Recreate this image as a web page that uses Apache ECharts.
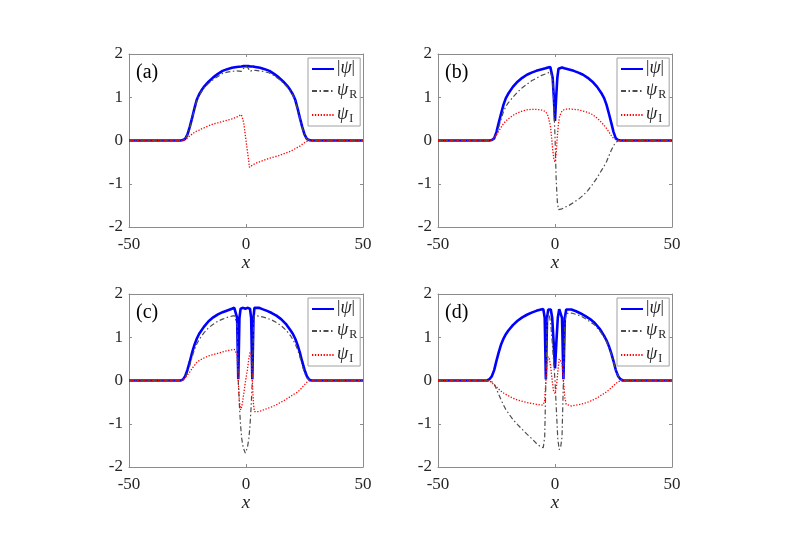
<!DOCTYPE html>
<html>
<head>
<meta charset="utf-8">
<script src="https://cdn.jsdelivr.net/npm/echarts@6/dist/echarts.min.js"></script>
<style>
html, body { margin: 0; padding: 0; background: #fff; }
#chart { width: 789px; height: 558px; }
</style>
</head>
<body>
<div id="chart"></div>
<script>
// values, x in [-50, 50]
var xA   = [-50,-28,-27,-26,-25,-24,-23,-22,-21,-20,-19,-18,-16,-14,-12,-10,-8,-6,-4,-2,-1.5,-1,-0.5,0,0.5,1,1.5,2,3,4,6,8,10,12,14,16,18,19,20,21,22,23,24,25,26,27,28,50];
var absA = [0,0,0.01,0.04,0.14,0.32,0.53,0.75,0.95,1.07,1.16,1.24,1.36,1.46,1.54,1.61,1.65,1.68,1.70,1.71,1.72,1.72,1.72,1.72,1.72,1.72,1.72,1.71,1.71,1.70,1.68,1.65,1.61,1.54,1.46,1.36,1.24,1.16,1.07,0.95,0.75,0.53,0.32,0.14,0.04,0.01,0,0];
var reA  = [0,0,0.01,0.03,0.13,0.30,0.51,0.73,0.93,1.04,1.13,1.21,1.32,1.41,1.48,1.55,1.58,1.60,1.61,1.60,1.60,1.67,1.71,1.72,1.71,1.67,1.60,1.60,1.62,1.62,1.61,1.59,1.56,1.50,1.42,1.33,1.21,1.14,1.05,0.93,0.73,0.51,0.31,0.13,0.03,0.01,0,0];
var imA  = [0,0,0,0.02,0.06,0.11,0.15,0.19,0.22,0.24,0.27,0.29,0.34,0.38,0.41,0.44,0.47,0.5,0.54,0.6,0.63,0.42,0.21,0,-0.21,-0.41,-0.62,-0.6,-0.56,-0.53,-0.49,-0.45,-0.41,-0.38,-0.35,-0.31,-0.27,-0.25,-0.22,-0.19,-0.16,-0.13,-0.09,-0.05,-0.02,0,0,0];

var xB   = [-50,-28,-27,-26,-25,-24,-23,-22,-21,-20,-18,-16,-14,-12,-10,-8,-6,-4,-3,-2,-1.5,-1,-0.5,0,0.5,1,1.5,2,3,4,6,8,10,12,14,16,18,20,21,22,23,24,25,26,27,28,50];
var absB = [0,0,0.01,0.05,0.2,0.42,0.63,0.83,0.98,1.08,1.24,1.36,1.45,1.52,1.57,1.61,1.64,1.67,1.69,1.70,1.66,1.45,1.0,0.45,1.0,1.45,1.66,1.70,1.69,1.67,1.64,1.61,1.57,1.52,1.45,1.36,1.24,1.08,0.98,0.83,0.63,0.42,0.2,0.05,0.01,0,0];
var reB  = [0,0,0.01,0.04,0.15,0.32,0.5,0.67,0.79,0.87,1.0,1.12,1.22,1.3,1.38,1.44,1.5,1.54,1.56,1.6,1.6,1.4,0.85,0.1,-0.9,-1.42,-1.6,-1.61,-1.58,-1.55,-1.5,-1.43,-1.36,-1.27,-1.16,-1.02,-0.86,-0.68,-0.59,-0.49,-0.36,-0.23,-0.12,-0.04,-0.01,0,0];
var imB  = [0,0,0.01,0.05,0.13,0.22,0.31,0.39,0.45,0.5,0.58,0.64,0.68,0.71,0.72,0.72,0.71,0.67,0.57,0.35,0.1,-0.2,-0.42,-0.5,-0.3,0.1,0.4,0.57,0.68,0.72,0.73,0.72,0.71,0.68,0.65,0.6,0.52,0.41,0.35,0.28,0.2,0.12,0.05,0.02,0.01,0,0];

var xC   = [-50,-28,-27,-26,-25,-24,-23,-22,-21,-20,-18,-16,-14,-12,-10,-8,-6,-5,-4.2,-3.8,-3.3,-2.8,-2.3,-1.8,-1.2,-0.3,0.6,1.2,1.7,2.2,2.7,3.2,3.6,4.4,5.5,7,9,11,13,15,17,19,20,21,22,23,24,25,26,27,28,50];
var absC = [0,0,0.02,0.1,0.25,0.44,0.65,0.83,0.97,1.08,1.24,1.37,1.46,1.53,1.58,1.62,1.66,1.68,1.69,1.45,0.03,1.45,1.66,1.68,1.68,1.66,1.68,1.68,1.66,1.45,0.03,1.45,1.68,1.69,1.68,1.65,1.61,1.56,1.5,1.42,1.31,1.16,1.08,0.97,0.83,0.65,0.44,0.25,0.1,0.02,0,0];
var reC  = [0,0,0.01,0.06,0.18,0.35,0.55,0.72,0.85,0.95,1.1,1.22,1.3,1.37,1.42,1.46,1.49,1.5,1.5,1.3,0,-0.6,-1.05,-1.35,-1.55,-1.68,-1.55,-1.35,-1.05,-0.6,0,1.3,1.5,1.5,1.49,1.47,1.44,1.4,1.34,1.27,1.17,1.04,0.95,0.85,0.72,0.55,0.35,0.18,0.06,0.01,0,0];
var imC  = [0,0,0.01,0.07,0.13,0.2,0.28,0.35,0.42,0.46,0.52,0.57,0.6,0.63,0.66,0.69,0.71,0.72,0.72,0.6,0,-0.5,-0.68,-0.6,-0.4,-0.05,0.25,0.5,0.65,0.6,0,-0.55,-0.72,-0.73,-0.72,-0.69,-0.65,-0.61,-0.56,-0.5,-0.44,-0.37,-0.33,-0.3,-0.27,-0.22,-0.16,-0.1,-0.04,-0.01,0,0];

var xD   = [-50,-29,-28,-27,-26,-25,-24,-23,-22,-21,-20,-18,-16,-14,-12,-10,-8,-6,-5,-4.4,-3.9,-3.4,-2.9,-2.4,-1.8,-1.2,-0.6,0,0.6,1.2,1.8,2.4,3.0,3.6,4.2,4.8,5.5,7,9,11,13,15,17,19,20,21,22,23,24,25,26,27,28,29,50];
var absD = [0,0,0.03,0.1,0.24,0.46,0.66,0.84,0.97,1.07,1.15,1.28,1.38,1.46,1.52,1.57,1.61,1.64,1.65,1.45,0.03,1.45,1.64,1.67,1.64,1.45,0.9,0.28,0.9,1.45,1.65,1.64,1.45,0.03,1.45,1.64,1.66,1.64,1.6,1.55,1.49,1.42,1.33,1.2,1.12,1.03,0.93,0.8,0.64,0.45,0.24,0.1,0.03,0,0];
var reD  = [0,0,-0.01,-0.03,-0.08,-0.2,-0.33,-0.45,-0.57,-0.67,-0.75,-0.9,-1.02,-1.13,-1.24,-1.34,-1.45,-1.54,-1.55,-1.3,0,1.3,1.55,1.5,1.3,0.9,0.45,0,-0.7,-1.35,-1.6,-1.55,-1.3,0,1.3,1.55,1.57,1.56,1.53,1.49,1.43,1.36,1.28,1.16,1.08,1.0,0.9,0.77,0.62,0.44,0.24,0.1,0.03,0,0];
var imD  = [0,0,-0.01,-0.05,-0.1,-0.15,-0.2,-0.25,-0.29,-0.32,-0.35,-0.41,-0.45,-0.48,-0.51,-0.53,-0.55,-0.57,-0.56,-0.45,0,0.4,0.55,0.5,0.3,0,-0.25,-0.3,-0.15,0.2,0.5,0.53,0.4,0,-0.4,-0.55,-0.58,-0.59,-0.57,-0.55,-0.52,-0.48,-0.43,-0.37,-0.33,-0.3,-0.26,-0.22,-0.17,-0.12,-0.07,-0.03,-0.01,0,0];

var panelLabels = ['(a)', '(b)', '(c)', '(d)'];
var seriesNames = ['|ψ|', 'ψR', 'ψI'];
var xTicks = { min: -50, max: 50, interval: 50 };
var yTicks = { min: -2, max: 2, interval: 1 };

var panels = [
    { x: xA, abs: absA, re: reA, im: imA },
    { x: xB, abs: absB, re: reB, im: imB },
    { x: xC, abs: absC, re: reC, im: imC },
    { x: xD, abs: absD, re: reD, im: imD }
];

var FONT = 'Liberation Serif';
var AXIS_COLOR = '#8c8c8c';
var gridPos = [
    { left: 129, top: 54 },
    { left: 438, top: 54 },
    { left: 129, top: 294 },
    { left: 438, top: 294 }
];
var GW = 234, GH = 173;

function pairs(xs, ys) {
    return xs.map(function (x, i) { return [x, ys[i]]; });
}

var lineStyles = [
    { color: '#0000ff', width: 2.6, type: 'solid' },
    { color: '#4d4d4d', width: 1.2, type: [5, 2.5, 1.5, 2.5] },
    { color: '#ff0000', width: 1.3, type: [1.3, 1.6] }
];

function boxAxis(dir, i, pos, withLabels) {
    var a = {
        type: 'value', gridIndex: i, position: pos,
        min: dir === 'x' ? xTicks.min : yTicks.min,
        max: dir === 'x' ? xTicks.max : yTicks.max,
        interval: dir === 'x' ? xTicks.interval : yTicks.interval,
        axisLine: { show: true, onZero: false, lineStyle: { color: AXIS_COLOR, width: 1 } },
        axisTick: { show: true, inside: true, length: 3, lineStyle: { color: AXIS_COLOR } },
        axisLabel: { show: false },
        splitLine: { show: false }
    };
    if (withLabels) {
        a.axisLabel = { show: true, fontFamily: FONT, fontSize: 17, color: '#262626', margin: dir === 'x' ? 9 : 6 };
    }
    return a;
}

var grid = [], xAxis = [], yAxis = [], series = [], legend = [], title = [];

panels.forEach(function (p, i) {
    var g = gridPos[i];
    grid.push({ left: g.left, top: g.top, width: GW, height: GH, containLabel: false });

    var xb = boxAxis('x', i, 'bottom', true);
    xb.name = 'x';
    xb.nameLocation = 'middle';
    xb.nameGap = 26;
    xb.nameTextStyle = { fontFamily: FONT, fontStyle: 'italic', fontSize: 19, color: '#262626' };
    xAxis.push(xb);
    xAxis.push(boxAxis('x', i, 'top', false));
    yAxis.push(boxAxis('y', i, 'left', true));
    yAxis.push(boxAxis('y', i, 'right', false));

    [p.abs, p.re, p.im].forEach(function (vals, k) {
        series.push({
            name: seriesNames[k],
            type: 'line',
            xAxisIndex: 2 * i,
            yAxisIndex: 2 * i,
            data: pairs(p.x, vals),
            symbol: 'none',
            showSymbol: false,
            smooth: false,
            lineStyle: lineStyles[k],
            itemStyle: { color: lineStyles[k].color },
            emphasis: { disabled: true },
            z: 2 + k
        });
    });

    legend.push({
        data: seriesNames,
        orient: 'vertical',
        left: g.left + 179,
        top: g.top + 4,
        padding: [1, 3, 1, 3],
        itemGap: 0,
        itemWidth: 22,
        itemHeight: 12,
        itemStyle: { opacity: 0 },
        backgroundColor: '#fff',
        borderColor: '#a0a0a0',
        borderWidth: 1,
        borderRadius: 0,
        selectedMode: false,
        formatter: function (name) {
            if (name === '|ψ|') return '{t||}{g|ψ}{t||}';
            if (name === 'ψR') return '{g|ψ}{s|R}';
            return '{g|ψ}{s|I}';
        },
        textStyle: {
            color: '#262626',
            padding: [0, 0, 0, -2],
            rich: {
                t: { fontFamily: FONT, fontSize: 17, lineHeight: 20, verticalAlign: 'top', color: '#262626' },
                g: { fontFamily: FONT, fontStyle: 'italic', fontSize: 18, lineHeight: 20, verticalAlign: 'top', color: '#262626' },
                s: { fontFamily: FONT, fontSize: 12, lineHeight: 12, padding: [12, 0, 0, 1], verticalAlign: 'bottom', color: '#262626' }
            }
        }
    });

    title.push({
        text: panelLabels[i],
        left: g.left + 7,
        top: g.top + 9,
        padding: 0,
        textStyle: { fontFamily: FONT, fontSize: 20, fontWeight: 'normal', color: '#000' }
    });
});

var chart = echarts.init(document.getElementById('chart'));
chart.setOption({
    animation: false,
    backgroundColor: '#fff',
    title: title,
    grid: grid,
    xAxis: xAxis,
    yAxis: yAxis,
    legend: legend,
    series: series
});
</script>
</body>
</html>
